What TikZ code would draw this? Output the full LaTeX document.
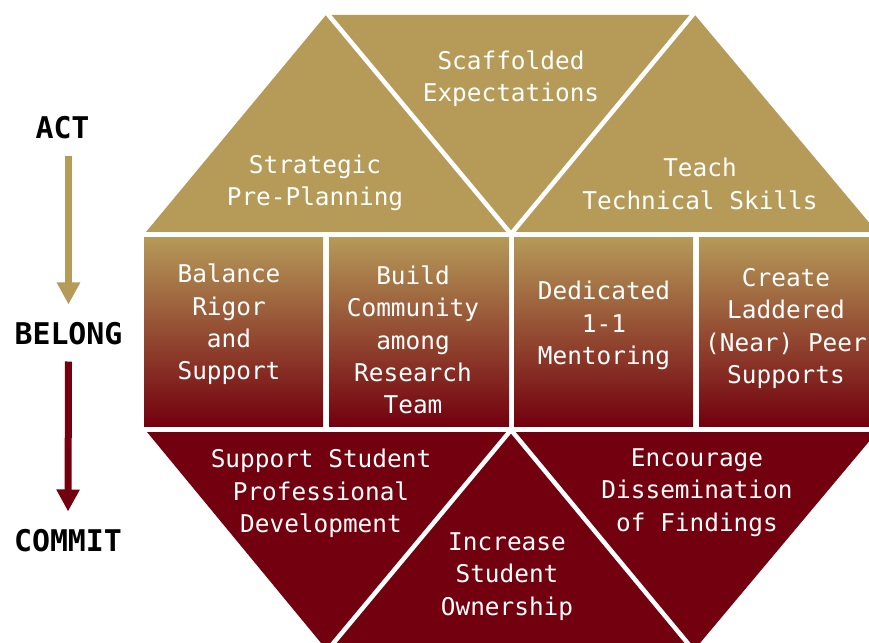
\documentclass[tikz,border=0pt]{standalone}
\usepackage{fontspec}
\newfontfamily\dmono{DejaVu Sans Mono}
\usetikzlibrary{arrows.meta}
\definecolor{fsugold}{HTML}{B59A58}
\definecolor{fsured}{HTML}{73000E}
\begin{document}
\begin{tikzpicture}[x=1bp,y=-1bp,
  lbl/.style={text=white, font=\dmono\fontsize{24.5}{32.5}\selectfont, align=center, inner sep=0pt},
  side/.style={text=black, font=\dmono\bfseries\fontsize{30}{36}\selectfont, inner sep=0pt},
  divider/.style={white, line width=4.5bp},
  box/.style={top color=fsugold, bottom color=fsured, draw=none},
  flow/.style={line width=7bp, -{Triangle[width=22bp,length=22bp]}}]
\useasboundingbox (0,0) rectangle (869,643);
\clip (0,0) rectangle (869,643);
% top band
\fill[fsugold] (146,232) -- (326,15) -- (695,15) -- (877,232) -- cycle;
\draw[divider] (326,12) -- (511,234);
\draw[divider] (695,12) -- (511,234);
% middle band
\shade[box] (144,237) rectangle (323,426);
\shade[box] (329,237) rectangle (509,426);
\shade[box] (514,237) rectangle (693,426);
\shade[box] (699,237) rectangle (880,426);
% bottom band
\fill[fsured] (147,432) -- (877,432) -- (695,649) -- (326,649) -- cycle;
\draw[divider] (511,430) -- (326,652);
\draw[divider] (511,430) -- (695,652);
% texts
\node[lbl] (scaf) at (511,79) {Scaffolded\\Expectations};
\node[lbl] (strat) at (315,183) {Strategic\\Pre-Planning};
\node[lbl] (teach) at (700,184) {Teach\\Technical Skills};
\node[lbl] (bal) at (229,324.5) {Balance\\Rigor\\and\\Support};
\node[lbl] (build) at (413,340) {Build\\Community\\among\\Research\\Team};
\node[lbl] (ded) at (604,325.5) {Dedicated\\1-1\\Mentoring};
\node[lbl] (lad) at (786,328.5) {Create\\Laddered\\(Near) Peer\\Supports};
\node[lbl] (prof) at (321,493.5) {Support Student\\Professional\\Development};
\node[lbl] (own) at (507,576.5) {Increase\\Student\\Ownership};
\node[lbl] (diss) at (697,492.5) {Encourage\\Dissemination\\of Findings};
% left side
\node[side] (act) at (62.5,128) {ACT};
\node[side] (belong) at (68.5,334) {BELONG};
\node[side] (commit) at (68,541) {COMMIT};
\draw[flow, fsugold, shorten <=16bp, shorten >=18bp] (act.south -| belong.north) -- (belong.north);
\draw[flow, fsured, shorten <=16bp, shorten >=18bp] (belong.south) -- (commit.north);
\end{tikzpicture}
\end{document}
